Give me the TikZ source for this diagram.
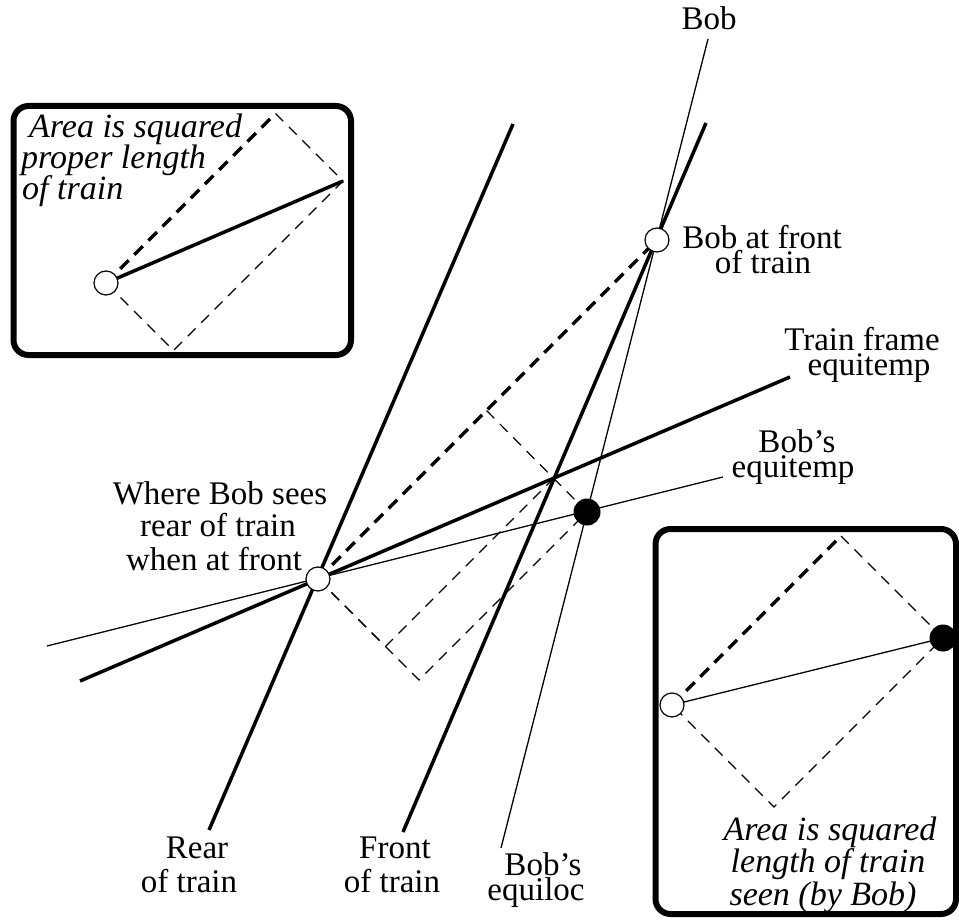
\documentclass[tikz,border=0pt]{standalone}
\usepackage{fontspec}
\setmainfont{Liberation Serif}
\begin{document}
\begin{tikzpicture}[x=1pt,y=-1pt,
  thickline/.style={line width=3.5pt},
  thinline/.style={line width=1.3pt},
  thickdash/.style={line width=3.5pt, dash pattern=on 12pt off 8pt},
  thindash/.style={line width=1.2pt, dash pattern=on 11pt off 8pt},
  insetframe/.style={line width=6pt, rounded corners=15pt},
  hollow/.style={circle, draw, line width=1.2pt, fill=white, minimum size=24pt, inner sep=0pt},
  blackdot/.style={circle, fill=black, minimum size=27pt, inner sep=0pt},
  lbl/.style={font=\fontsize{33}{33}\selectfont, inner sep=0pt, anchor=base},
  ilbl/.style={font=\fontsize{34}{34}\selectfont\itshape, inner sep=0pt, anchor=base},
]
\useasboundingbox (0,0) rectangle (959,920);
% key events
\coordinate (Rc) at (318,579);
\coordinate (Fc) at (657,240);
\coordinate (Bc) at (587,512);
\coordinate (P) at (554,478);
\coordinate (A) at (486.5,410.5);
\coordinate (B1) at (385.5,646.5);
\coordinate (B2) at (419,680);
% line end points
\coordinate (rearTop) at (513,124);
\coordinate (rearBot) at (209,830);
\coordinate (frontTop) at (706,123);
\coordinate (frontBot) at (403,832);
\coordinate (bobTop) at (708,39);
\coordinate (bobBot) at (501,848);
\coordinate (teqL) at (80,681);
\coordinate (teqR) at (790,377);
\coordinate (beqL) at (47,646);
\coordinate (beqR) at (723,477);
% main lines
\draw[thickline] (rearTop) -- (rearBot);
\draw[thickline] (frontTop) -- (frontBot);
\draw[thinline] (bobTop) -- (bobBot);
\draw[thickline] (teqL) -- (teqR);
\draw[thinline] (beqL) -- (beqR);
\draw[thickdash] (Rc) -- (Fc);
\draw[thindash] (Rc) -- (B1) -- (P);
\draw[thindash] (Rc) -- (B2) -- (Bc);
\draw[thindash] (A) -- (Bc);
% inset frames
\draw[insetframe] (13.5,106) rectangle (351,355);
\draw[insetframe] (655.5,529) rectangle (956,914);
% inset 1
\coordinate (c1) at (106,283);
\coordinate (e1) at (343,181);
\coordinate (t1) at (275.5,113.5);
\coordinate (b1) at (173.5,350.5);
\draw[thickline] (c1) -- (e1);
\draw[thickdash] (c1) -- (t1);
\draw[thindash] (t1) -- (e1) -- (b1) -- (c1);
% inset 2
\coordinate (c2) at (672,705);
\coordinate (k2) at (943,638);
\coordinate (t2) at (841,536);
\coordinate (b2) at (774,807);
\draw[thinline] (c2) -- (k2);
\draw[thickdash] (c2) -- (t2);
\draw[thindash] (t2) -- (k2) -- (b2) -- (c2);
% event markers
\node[hollow] (R) at (Rc) {};
\node[hollow] (F) at (Fc) {};
\node[blackdot] (Bd) at (Bc) {};
\node[hollow] (C1) at (c1) {};
\node[hollow] (C2) at (c2) {};
\node[blackdot] (K2) at (k2) {};
% labels
\node[lbl] (lBob) at (709,30) {Bob};
\node[lbl] (lFrontA) at (762,249) {Bob at front};
\node[lbl] (lFrontB) at (763,273) {of train};
\node[lbl] (lTeqA) at (862,350) {Train frame};
\node[lbl] (lTeqB) at (869,375) {equitemp};
\node[lbl] (lBeqA) at (797,452) {Bob’s};
\node[lbl] (lBeqB) at (793,477) {equitemp};
\node[lbl] (lWhereA) at (220,504) {Where Bob sees};
\node[lbl] (lWhereB) at (218,536) {rear of train};
\node[lbl] (lWhereC) at (214,570) {when at front};
\node[lbl] (lRearA) at (197,858) {Rear};
\node[lbl] (lRearB) at (189,892) {of train};
\node[lbl] (lFrontTA) at (395,858) {Front};
\node[lbl] (lFrontTB) at (392,892) {of train};
\node[lbl] (lEqlA) at (543,875) {Bob’s};
\node[lbl] (lEqlB) at (536,900) {equiloc};
\node[ilbl, anchor=base west] (i1A) at (29,138) {Area is squared};
\node[ilbl, anchor=base west] (i1B) at (21,169) {proper length};
\node[ilbl, anchor=base west] (i1C) at (22,200) {of train};
\node[ilbl] (i2A) at (830,840) {Area is squared};
\node[ilbl] (i2B) at (828,872) {length of train};
\node[ilbl] (i2C) at (823,905) {seen (by Bob)};
\end{tikzpicture}
\end{document}
